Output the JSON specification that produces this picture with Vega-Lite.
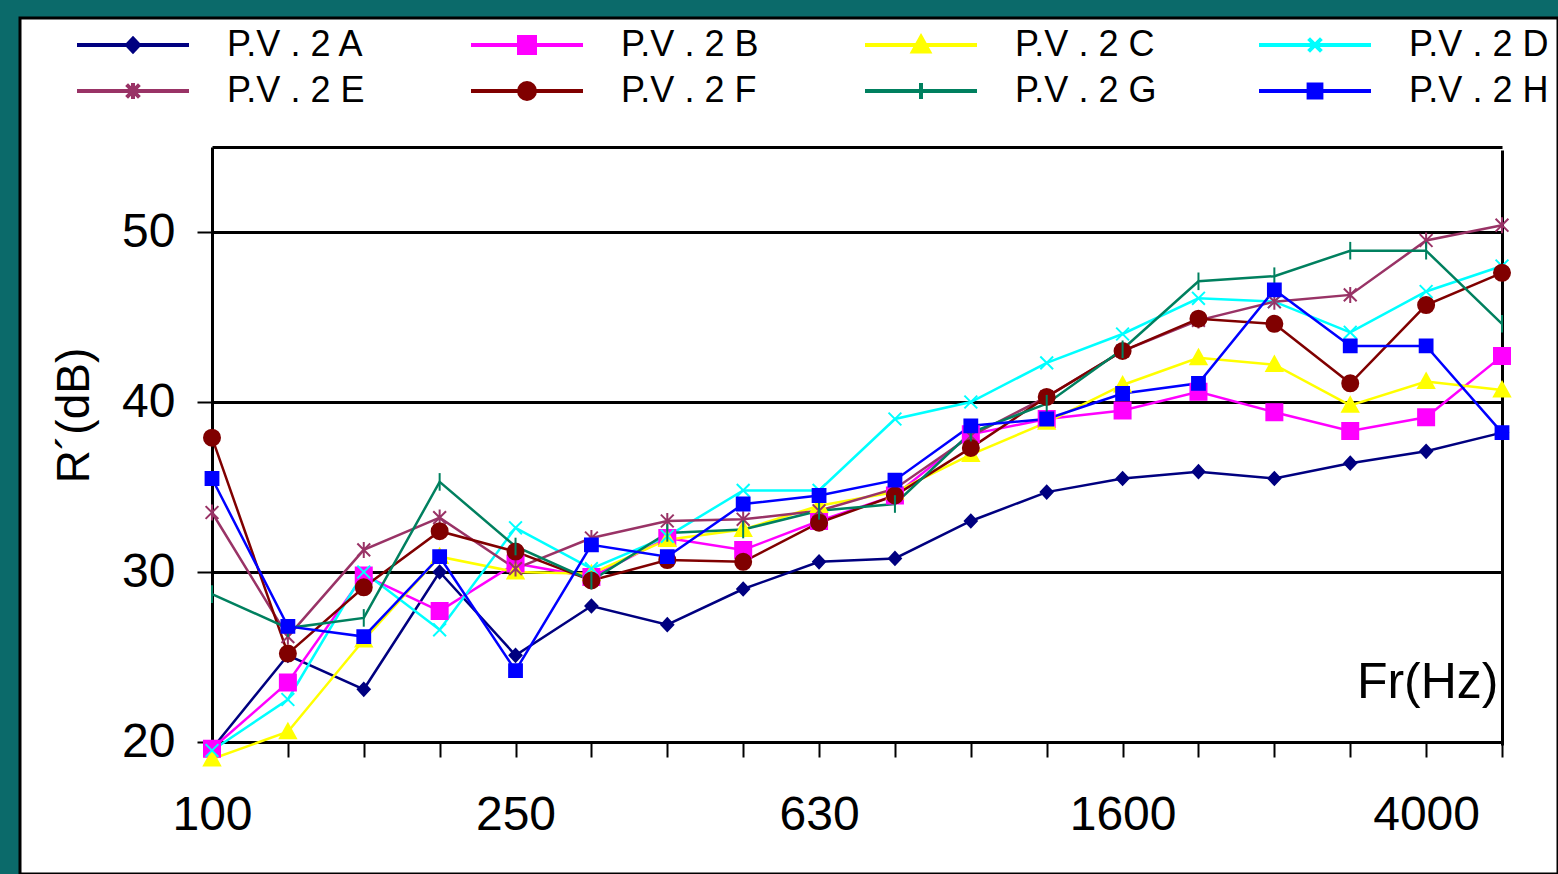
{
  "$schema": "https://vega.github.io/schema/vega-lite/v6.json",
  "width": 1538,
  "height": 856,
  "autosize": {"type": "none"},
  "padding": {"left": 20, "top": 18, "right": 0, "bottom": 0},
  "background": "#0b6a6a",
  "config": {
    "view": {"fill": "white", "stroke": "black", "strokeWidth": 3},
    "font": "Liberation Sans",
    "legend": {
      "orient": "none",
      "direction": "horizontal",
      "legendX": 47,
      "legendY": 9,
      "columns": 4,
      "columnPadding": 92,
      "rowPadding": 10,
      "gridAlign": "all",
      "padding": 0,
      "symbolSize": 256,
      "symbolStrokeWidth": 4,
      "labelFontSize": 36,
      "labelColor": "black",
      "labelOffset": 124,
      "labelLimit": 400
    }
  },
  "datasets": {
    "rows": [
      {"s":"P.V . 2 A","f":100,"r":19.6},{"s":"P.V . 2 A","f":125,"r":25.1},{"s":"P.V . 2 A","f":160,"r":23.1},{"s":"P.V . 2 A","f":200,"r":30.0},{"s":"P.V . 2 A","f":250,"r":25.1},{"s":"P.V . 2 A","f":315,"r":28.0},{"s":"P.V . 2 A","f":400,"r":26.9},{"s":"P.V . 2 A","f":500,"r":29.0},{"s":"P.V . 2 A","f":630,"r":30.6},{"s":"P.V . 2 A","f":800,"r":30.8},{"s":"P.V . 2 A","f":1000,"r":33.0},{"s":"P.V . 2 A","f":1250,"r":34.7},{"s":"P.V . 2 A","f":1600,"r":35.5},{"s":"P.V . 2 A","f":2000,"r":35.9},{"s":"P.V . 2 A","f":2500,"r":35.5},{"s":"P.V . 2 A","f":3150,"r":36.4},{"s":"P.V . 2 A","f":4000,"r":37.1},{"s":"P.V . 2 A","f":5000,"r":38.2},
      {"s":"P.V . 2 B","f":100,"r":19.6},{"s":"P.V . 2 B","f":125,"r":23.5},{"s":"P.V . 2 B","f":160,"r":29.8},{"s":"P.V . 2 B","f":200,"r":27.7},{"s":"P.V . 2 B","f":250,"r":30.5},{"s":"P.V . 2 B","f":315,"r":29.7},{"s":"P.V . 2 B","f":400,"r":32.0},{"s":"P.V . 2 B","f":500,"r":31.3},{"s":"P.V . 2 B","f":630,"r":33.0},{"s":"P.V . 2 B","f":800,"r":34.5},{"s":"P.V . 2 B","f":1000,"r":38.1},{"s":"P.V . 2 B","f":1250,"r":39.0},{"s":"P.V . 2 B","f":1600,"r":39.5},{"s":"P.V . 2 B","f":2000,"r":40.6},{"s":"P.V . 2 B","f":2500,"r":39.4},{"s":"P.V . 2 B","f":3150,"r":38.3},{"s":"P.V . 2 B","f":4000,"r":39.1},{"s":"P.V . 2 B","f":5000,"r":42.7},
      {"s":"P.V . 2 C","f":100,"r":19.0},{"s":"P.V . 2 C","f":125,"r":20.6},{"s":"P.V . 2 C","f":160,"r":26.0},{"s":"P.V . 2 C","f":200,"r":30.9},{"s":"P.V . 2 C","f":250,"r":30.0},{"s":"P.V . 2 C","f":315,"r":29.9},{"s":"P.V . 2 C","f":400,"r":31.9},{"s":"P.V . 2 C","f":500,"r":32.5},{"s":"P.V . 2 C","f":630,"r":33.9},{"s":"P.V . 2 C","f":800,"r":34.7},{"s":"P.V . 2 C","f":1000,"r":36.9},{"s":"P.V . 2 C","f":1250,"r":38.8},{"s":"P.V . 2 C","f":1600,"r":41.0},{"s":"P.V . 2 C","f":2000,"r":42.6},{"s":"P.V . 2 C","f":2500,"r":42.2},{"s":"P.V . 2 C","f":3150,"r":39.8},{"s":"P.V . 2 C","f":4000,"r":41.2},{"s":"P.V . 2 C","f":5000,"r":40.7},
      {"s":"P.V . 2 D","f":100,"r":19.5},{"s":"P.V . 2 D","f":125,"r":22.5},{"s":"P.V . 2 D","f":160,"r":30.0},{"s":"P.V . 2 D","f":200,"r":26.6},{"s":"P.V . 2 D","f":250,"r":32.6},{"s":"P.V . 2 D","f":315,"r":30.2},{"s":"P.V . 2 D","f":400,"r":32.1},{"s":"P.V . 2 D","f":500,"r":34.8},{"s":"P.V . 2 D","f":630,"r":34.8},{"s":"P.V . 2 D","f":800,"r":39.0},{"s":"P.V . 2 D","f":1000,"r":40.0},{"s":"P.V . 2 D","f":1250,"r":42.3},{"s":"P.V . 2 D","f":1600,"r":44.0},{"s":"P.V . 2 D","f":2000,"r":46.1},{"s":"P.V . 2 D","f":2500,"r":45.9},{"s":"P.V . 2 D","f":3150,"r":44.1},{"s":"P.V . 2 D","f":4000,"r":46.5},{"s":"P.V . 2 D","f":5000,"r":48.0},
      {"s":"P.V . 2 E","f":100,"r":33.5},{"s":"P.V . 2 E","f":125,"r":26.2},{"s":"P.V . 2 E","f":160,"r":31.3},{"s":"P.V . 2 E","f":200,"r":33.2},{"s":"P.V . 2 E","f":250,"r":30.2},{"s":"P.V . 2 E","f":315,"r":32.0},{"s":"P.V . 2 E","f":400,"r":33.0},{"s":"P.V . 2 E","f":500,"r":33.1},{"s":"P.V . 2 E","f":630,"r":33.6},{"s":"P.V . 2 E","f":800,"r":34.9},{"s":"P.V . 2 E","f":1000,"r":38.0},{"s":"P.V . 2 E","f":1250,"r":40.3},{"s":"P.V . 2 E","f":1600,"r":43.0},{"s":"P.V . 2 E","f":2000,"r":44.8},{"s":"P.V . 2 E","f":2500,"r":45.9},{"s":"P.V . 2 E","f":3150,"r":46.3},{"s":"P.V . 2 E","f":4000,"r":49.5},{"s":"P.V . 2 E","f":5000,"r":50.4},
      {"s":"P.V . 2 F","f":100,"r":37.9},{"s":"P.V . 2 F","f":125,"r":25.2},{"s":"P.V . 2 F","f":160,"r":29.1},{"s":"P.V . 2 F","f":200,"r":32.4},{"s":"P.V . 2 F","f":250,"r":31.2},{"s":"P.V . 2 F","f":315,"r":29.5},{"s":"P.V . 2 F","f":400,"r":30.7},{"s":"P.V . 2 F","f":500,"r":30.6},{"s":"P.V . 2 F","f":630,"r":32.9},{"s":"P.V . 2 F","f":800,"r":34.5},{"s":"P.V . 2 F","f":1000,"r":37.3},{"s":"P.V . 2 F","f":1250,"r":40.3},{"s":"P.V . 2 F","f":1600,"r":43.0},{"s":"P.V . 2 F","f":2000,"r":44.9},{"s":"P.V . 2 F","f":2500,"r":44.6},{"s":"P.V . 2 F","f":3150,"r":41.1},{"s":"P.V . 2 F","f":4000,"r":45.7},{"s":"P.V . 2 F","f":5000,"r":47.6},
      {"s":"P.V . 2 G","f":100,"r":28.7},{"s":"P.V . 2 G","f":125,"r":26.7},{"s":"P.V . 2 G","f":160,"r":27.3},{"s":"P.V . 2 G","f":200,"r":35.3},{"s":"P.V . 2 G","f":250,"r":31.5},{"s":"P.V . 2 G","f":315,"r":29.5},{"s":"P.V . 2 G","f":400,"r":32.3},{"s":"P.V . 2 G","f":500,"r":32.5},{"s":"P.V . 2 G","f":630,"r":33.6},{"s":"P.V . 2 G","f":800,"r":34.0},{"s":"P.V . 2 G","f":1000,"r":38.2},{"s":"P.V . 2 G","f":1250,"r":39.9},{"s":"P.V . 2 G","f":1600,"r":43.1},{"s":"P.V . 2 G","f":2000,"r":47.1},{"s":"P.V . 2 G","f":2500,"r":47.4},{"s":"P.V . 2 G","f":3150,"r":48.9},{"s":"P.V . 2 G","f":4000,"r":48.9},{"s":"P.V . 2 G","f":5000,"r":44.6},
      {"s":"P.V . 2 H","f":100,"r":35.5},{"s":"P.V . 2 H","f":125,"r":26.8},{"s":"P.V . 2 H","f":160,"r":26.2},{"s":"P.V . 2 H","f":200,"r":30.9},{"s":"P.V . 2 H","f":250,"r":24.2},{"s":"P.V . 2 H","f":315,"r":31.6},{"s":"P.V . 2 H","f":400,"r":30.9},{"s":"P.V . 2 H","f":500,"r":34.0},{"s":"P.V . 2 H","f":630,"r":34.5},{"s":"P.V . 2 H","f":800,"r":35.4},{"s":"P.V . 2 H","f":1000,"r":38.6},{"s":"P.V . 2 H","f":1250,"r":39.0},{"s":"P.V . 2 H","f":1600,"r":40.5},{"s":"P.V . 2 H","f":2000,"r":41.1},{"s":"P.V . 2 H","f":2500,"r":46.6},{"s":"P.V . 2 H","f":3150,"r":43.3},{"s":"P.V . 2 H","f":4000,"r":43.3},{"s":"P.V . 2 H","f":5000,"r":38.2}
    ]
  },
  "data": {"name": "rows"},
  "encoding": {
    "x": {
      "field": "f",
      "type": "ordinal",
      "sort": "ascending",
      "scale": {"type": "point", "padding": 0, "range": [192, 1482]},
      "axis": {
        "offset": -132,
        "domainColor": "black",
        "domainWidth": 3,
        "tickColor": "black",
        "tickWidth": 2,
        "tickSize": 15,
        "labelAngle": 0,
        "labelOverlap": false,
        "labelFontSize": 48,
        "labelColor": "black",
        "labelPadding": 34,
        "labelExpr": "indexof(['100','250','630','1600','4000'], datum.label) >= 0 ? datum.label : ''",
        "grid": true,
        "gridColor": "black",
        "gridWidth": 3,
        "gridOpacity": {"condition": {"test": "datum.value == 5000", "value": 1}, "value": 0},
        "title": "Fr(Hz)",
        "titleFontSize": 50,
        "titleFontWeight": "normal",
        "titleColor": "black",
        "titleAlign": "right",
        "titleBaseline": "alphabetic",
        "titleAnchor": null,
        "titleX": 1478,
        "titleY": -45
      }
    },
    "y": {
      "field": "r",
      "type": "quantitative",
      "scale": {"domain": [20, 55], "range": [724, 129], "nice": false, "zero": false},
      "axis": {
        "offset": -192,
        "values": [20, 30, 40, 50, 55],
        "labelExpr": "datum.value == 55 ? '' : datum.label",
        "domainColor": "black",
        "domainWidth": 3,
        "tickColor": "black",
        "tickWidth": 2,
        "tickSize": 15,
        "tickOpacity": {"condition": {"test": "datum.value == 55", "value": 0}, "value": 1},
        "labelFontSize": 48,
        "labelColor": "black",
        "labelPadding": 22,
        "grid": true,
        "gridColor": "black",
        "gridWidth": 3,
        "title": "R´(dB)",
        "titleFontSize": 46,
        "titleFontWeight": "normal",
        "titleColor": "black",
        "titleAngle": -90,
        "titleAlign": "center",
        "titleBaseline": "alphabetic",
        "titleAnchor": null,
        "titleX": -124,
        "titleY": 397
      }
    },
    "color": {
      "field": "s",
      "type": "nominal",
      "scale": {
        "domain": ["P.V . 2 A","P.V . 2 B","P.V . 2 C","P.V . 2 D","P.V . 2 E","P.V . 2 F","P.V . 2 G","P.V . 2 H"],
        "range": ["#000080","#ff00ff","#ffff00","#00ffff","#993366","#800000","#00805f","#0000ff"]
      },
      "legend": {"title": null}
    },
    "stroke": {
      "field": "s",
      "type": "nominal",
      "scale": {
        "domain": ["P.V . 2 A","P.V . 2 B","P.V . 2 C","P.V . 2 D","P.V . 2 E","P.V . 2 F","P.V . 2 G","P.V . 2 H"],
        "range": ["#000080","#ff00ff","#ffff00","#00ffff","#993366","#800000","#00805f","#0000ff"]
      },
      "legend": {"title": null}
    }
  },
  "layer": [
    {
      "mark": {"type": "line", "strokeWidth": 2.5}
    },
    {
      "transform": [{"filter": "datum.s == 'P.V . 2 A'"}],
      "mark": {"type": "point", "filled": true, "size": 256, "strokeWidth": 2, "opacity": 1, "shape": "M0,-0.8L0.75,0L0,0.8L-0.75,0Z"}
    },
    {
      "transform": [{"filter": "datum.s == 'P.V . 2 B'"}],
      "mark": {"type": "point", "filled": true, "size": 256, "strokeWidth": 2, "opacity": 1, "shape": "M-1,-1H1V1H-1Z"}
    },
    {
      "transform": [{"filter": "datum.s == 'P.V . 2 C'"}],
      "mark": {"type": "point", "filled": true, "size": 256, "strokeWidth": 2, "opacity": 1, "shape": "M0,-1L1,0.8H-1Z"}
    },
    {
      "transform": [{"filter": "datum.s == 'P.V . 2 D'"}],
      "mark": {"type": "point", "filled": true, "size": 256, "strokeWidth": 2, "opacity": 1, "shape": "M-0.8,-0.8L0.8,0.8M0.8,-0.8L-0.8,0.8"}
    },
    {
      "transform": [{"filter": "datum.s == 'P.V . 2 E'"}],
      "mark": {"type": "point", "filled": true, "size": 256, "strokeWidth": 2, "opacity": 1, "shape": "M-0.8,-0.8L0.8,0.8M0.8,-0.8L-0.8,0.8M0,-1V1"}
    },
    {
      "transform": [{"filter": "datum.s == 'P.V . 2 F'"}],
      "mark": {"type": "point", "filled": true, "size": 256, "strokeWidth": 2, "opacity": 1, "shape": "M1,0A1,1,0,1,1,-1,0A1,1,0,1,1,1,0Z"}
    },
    {
      "transform": [{"filter": "datum.s == 'P.V . 2 G'"}],
      "mark": {"type": "point", "filled": true, "size": 256, "strokeWidth": 2, "opacity": 1, "shape": "M0,-1.1V1.1"}
    },
    {
      "transform": [{"filter": "datum.s == 'P.V . 2 H'"}],
      "mark": {"type": "point", "filled": true, "size": 256, "strokeWidth": 2, "opacity": 1, "shape": "M-0.8,-0.8H0.8V0.8H-0.8Z"}
    },
    {
      "transform": [{"filter": "false"}],
      "mark": {"type": "point", "filled": true, "size": 256, "strokeWidth": 4, "opacity": 1},
      "encoding": {
        "shape": {
          "field": "s",
          "type": "nominal",
          "legend": {"title": null},
          "scale": {
            "domain": ["P.V . 2 A","P.V . 2 B","P.V . 2 C","P.V . 2 D","P.V . 2 E","P.V . 2 F","P.V . 2 G","P.V . 2 H"],
            "range": ["M-1,0H13M6,-0.8L6.75,0L6,0.8L5.25,0Z","M-1,0H13M5,-1H7V1H5Z","M-1,0H13M6,-1L7,0.8H5Z","M-1,0H13M5.2,-0.8L6.8,0.8M6.8,-0.8L5.2,0.8","M-1,0H13M5.2,-0.8L6.8,0.8M6.8,-0.8L5.2,0.8M6,-1V1","M-1,0H13M7,0A1,1,0,1,1,5,0A1,1,0,1,1,7,0Z","M-1,0H13M6,-1V1","M-1,0H13M5.2,-0.8H6.8V0.8H5.2Z"]
          }
        }
      }
    }
  ]
}
